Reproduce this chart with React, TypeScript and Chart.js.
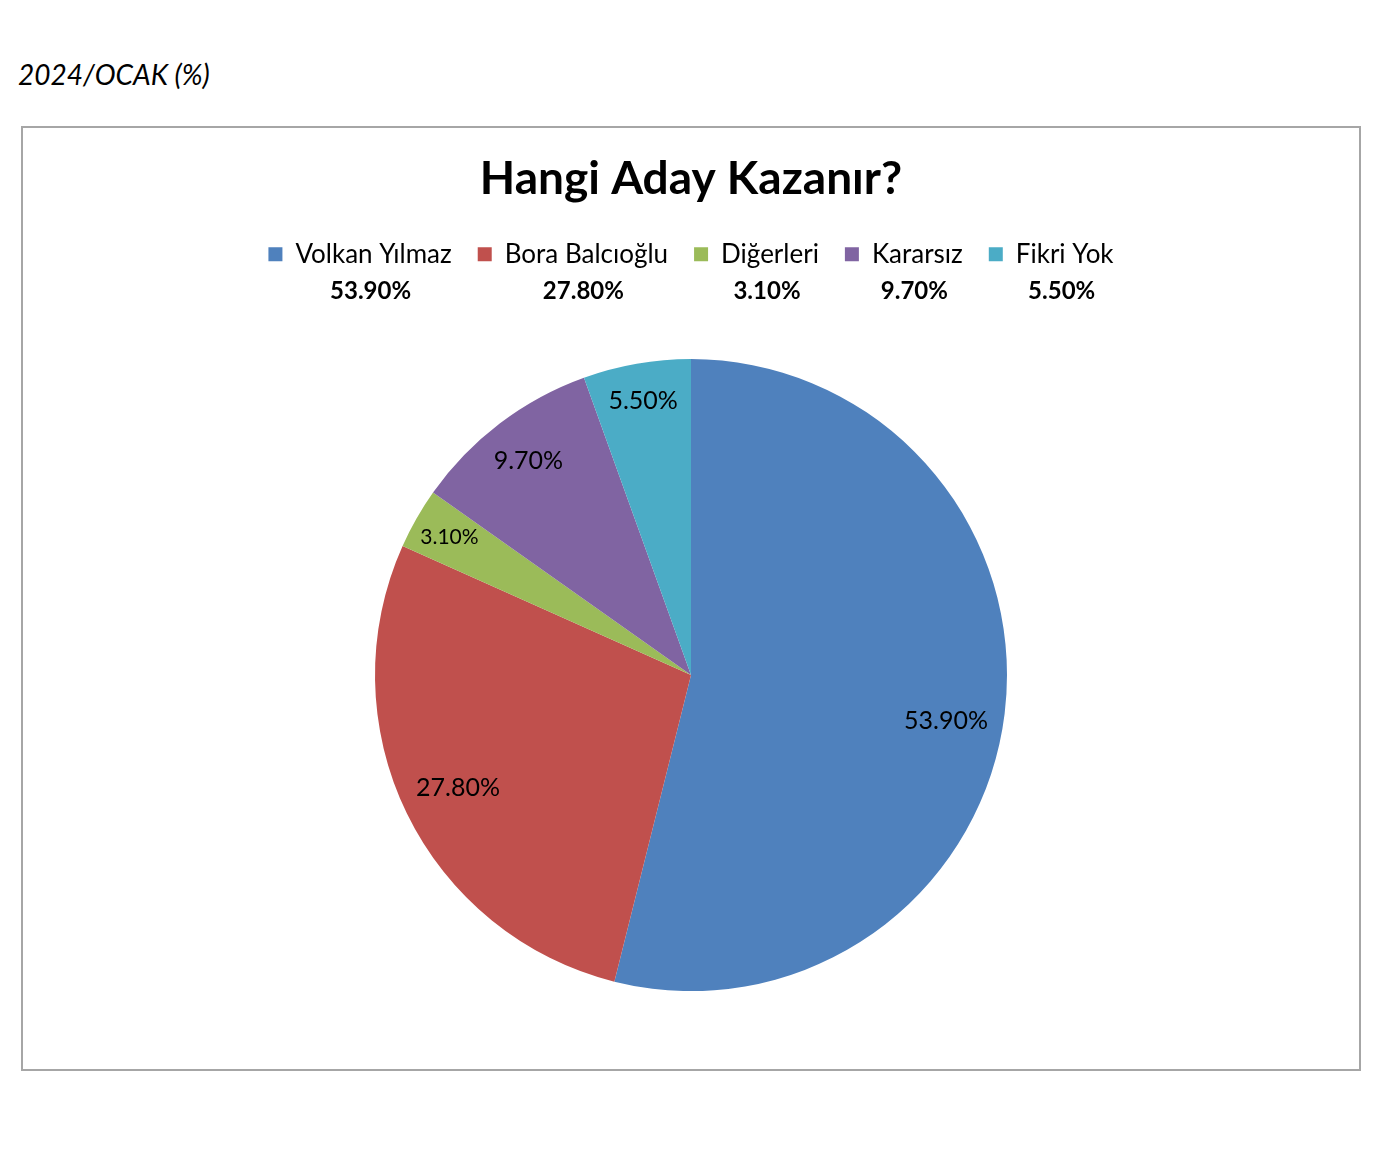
import { useEffect, useRef } from "react";
import { Chart, registerables } from "chart.js";

Chart.register(...registerables);

const candidates = ["Volkan Yılmaz", "Bora Balcıoğlu", "Diğerleri", "Kararsız", "Fikri Yok"];
const shares = [53.9, 27.8, 3.1, 9.7, 5.5];
const sliceColors = ["#4F81BD", "#C0504D", "#9BBB59", "#8064A2", "#4BACC6"];

const FONT = "Lato, 'DejaVu Sans', sans-serif";
const fmt = (v: number) => v.toFixed(2) + "%";

// percent line under each legend entry
const legendValues = {
  id: "legendValues",
  afterDraw(chart: any) {
    const legend = chart.legend;
    if (!legend || !legend.legendHitBoxes) return;
    const ctx = chart.ctx;
    const box = legend.options.labels.boxWidth;
    const fs = legend.options.labels.font.size;
    ctx.save();
    ctx.font = `bold 24px ${FONT}`;
    ctx.fillStyle = "#000";
    ctx.textAlign = "center";
    ctx.textBaseline = "middle";
    legend.legendHitBoxes.forEach((hb: any, i: number) => {
      const cx = hb.left + (box + fs / 2 + hb.width) / 2 - 3;
      ctx.fillText(fmt(shares[i]), cx, 162);
    });
    ctx.restore();
  },
};

// labels inside the slices
const sliceLabels = {
  id: "sliceLabels",
  afterDatasetsDraw(chart: any) {
    const ctx = chart.ctx;
    const meta = chart.getDatasetMeta(0);
    ctx.save();
    ctx.fillStyle = "#000";
    ctx.textAlign = "center";
    ctx.textBaseline = "middle";
    meta.data.forEach((arc: any, i: number) => {
      const v = shares[i];
      // big slice label sits a little below its mid angle, like Excel's best fit
      const mid = (arc.startAngle + arc.endAngle) / 2 + (v > 50 ? 0.055 : 0);
      const f = v < 6 ? 0.88 : v < 10 ? 0.85 : 0.82;
      const r = arc.outerRadius * f;
      ctx.font = `${v < 4 ? 21 : 25}px ${FONT}`;
      ctx.fillText(fmt(v), arc.x + Math.cos(mid) * r, arc.y + Math.sin(mid) * r);
    });
    ctx.restore();
  },
};

export default function App() {
  const canvasRef = useRef<HTMLCanvasElement>(null);
  const chartRef = useRef<Chart | null>(null);

  useEffect(() => {
    if (!canvasRef.current) return;
    if (chartRef.current) chartRef.current.destroy();

    chartRef.current = new Chart(canvasRef.current, {
      type: "pie",
      data: {
        labels: candidates,
        datasets: [
          {
            data: shares,
            backgroundColor: sliceColors,
            borderWidth: 0,
          },
        ],
      },
      options: {
        animation: false,
        responsive: false,
        radius: 316,
        layout: { padding: { bottom: 56 } },
        plugins: {
          title: {
            display: true,
            text: "Hangi Aday Kazanır?",
            color: "#000",
            font: { family: FONT, size: 46, weight: "bold" },
            padding: { top: 23, bottom: 8 },
          },
          legend: {
            position: "top",
            labels: {
              color: "#000",
              font: { family: FONT, size: 26 },
              boxWidth: 14,
              boxHeight: 14,
              padding: 26,
            },
          },
          tooltip: { enabled: false },
        },
      } as any,
      plugins: [legendValues, sliceLabels],
    });

    return () => {
      if (chartRef.current) {
        chartRef.current.destroy();
        chartRef.current = null;
      }
    };
  }, []);

  return (
    <div style={{ position: "absolute", left: 0, top: 0, width: 1384, height: 1152, background: "#fff" }}>
      <div
        style={{
          position: "absolute",
          left: 18,
          top: 57,
          fontFamily: FONT,
          fontStyle: "italic",
          fontSize: 28,
          color: "#000",
        }}
      >
        2024/OCAK (%)
      </div>
      <div
        style={{
          position: "absolute",
          left: 21,
          top: 126,
          width: 1340,
          height: 945,
          boxSizing: "border-box",
          border: "2px solid #A6A6A6",
        }}
      />
      <canvas
        ref={canvasRef}
        width={1336}
        height={1000}
        style={{ position: "absolute", left: 23, top: 129, width: 1336, height: 1000 }}
      />
    </div>
  );
}
